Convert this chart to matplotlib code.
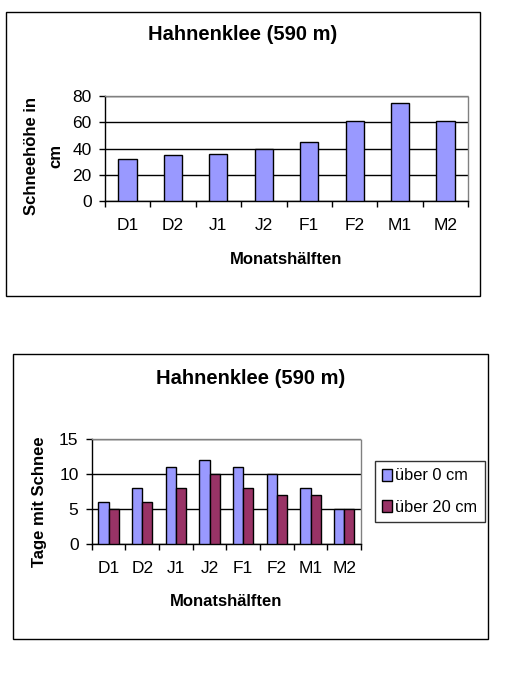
import matplotlib
matplotlib.use("Agg")
import matplotlib.pyplot as plt
from matplotlib.patches import Rectangle
import numpy as np

plt.rcParams['font.family'] = ['Liberation Sans', 'DejaVu Sans']

categories = ["D1", "D2", "J1", "J2", "F1", "F2", "M1", "M2"]
snow_depth = [32, 35, 36, 40, 45, 61, 75, 61]
days_over_0 = [6, 8, 11, 12, 11, 10, 8, 5]
days_over_20 = [5, 6, 8, 10, 8, 7, 7, 5]
title = "Hahnenklee (590 m)"
series_names = ["über 0 cm", "über 20 cm"]

W, H = 510, 700
fig = plt.figure(figsize=(W / 100, H / 100), dpi=100)
fig.patch.set_facecolor("white")

BLUE = "#9999FF"
RED = "#993366"
TICK_FS = 12.5
LABEL_FS = 12
TITLE_FS = 14.5


def fx(px):
    return px / W


def fy(py):
    return 1 - py / H


def box(x0, y0, x1, y1):
    fig.add_artist(Rectangle((fx(x0), fy(y1)), fx(x1) - fx(x0), fy(y0) - fy(y1),
                             transform=fig.transFigure, fill=False,
                             edgecolor="black", linewidth=1.0))


def style_axes(ax, n, ymax, ystep):
    ax.set_xlim(0, n)
    ax.set_ylim(0, ymax)
    ax.set_yticks(np.arange(0, ymax + 0.1, ystep))
    ax.set_xticks(np.arange(0, n + 1))
    ax.set_xticklabels([])
    ax.set_xticks(np.arange(n) + 0.5, minor=True)
    ax.set_xticklabels(categories, minor=True)
    ax.tick_params(axis="x", which="major", length=4.5, width=1, direction="out")
    ax.tick_params(axis="x", which="minor", length=0, pad=12, labelsize=TICK_FS)
    ax.tick_params(axis="y", length=4.5, width=1, direction="out", pad=5, labelsize=TICK_FS)
    ax.grid(axis="y", color="black", linewidth=1)
    ax.set_axisbelow(True)
    for s in ["top", "right"]:
        ax.spines[s].set_color("#808080")
        ax.spines[s].set_linestyle((0, (1, 1)))
        ax.spines[s].set_linewidth(1)
    for s in ["left", "bottom"]:
        ax.spines[s].set_color("black")
        ax.spines[s].set_linewidth(1)


# ---- Chart 1 ----
box(6, 12, 480, 296)
ax1 = fig.add_axes([fx(104.7), fy(201), fx(468.3) - fx(104.7), fy(96.3) - fy(201)])
x = np.arange(len(categories)) + 0.5
ax1.bar(x, snow_depth, width=0.4, color=BLUE, edgecolor="black", linewidth=1, zorder=3)
style_axes(ax1, len(categories), 80, 20)
fig.text(fx(243), fy(35), title, ha="center", va="center", fontsize=TITLE_FS, fontweight="bold")
fig.text(fx(286), fy(259), "Monatshälften", ha="center", va="center", fontsize=LABEL_FS, fontweight="bold")
fig.text(fx(44), fy(156), "Schneehöhe in\ncm", ha="center", va="center", fontsize=LABEL_FS,
         fontweight="bold", rotation=90, linespacing=1.75)

# ---- Chart 2 ----
box(13, 354, 488, 639)
ax2 = fig.add_axes([fx(91.7), fy(544.3), fx(361) - fx(91.7), fy(439.3) - fy(544.3)])
bw = 0.3
b1 = ax2.bar(x - bw / 2, days_over_0, width=bw, color=BLUE, edgecolor="black", linewidth=1, zorder=3,
             label=series_names[0])
b2 = ax2.bar(x + bw / 2, days_over_20, width=bw, color=RED, edgecolor="black", linewidth=1, zorder=3,
             label=series_names[1])
style_axes(ax2, len(categories), 15, 5)
fig.text(fx(251), fy(378), title, ha="center", va="center", fontsize=TITLE_FS, fontweight="bold")
fig.text(fx(226), fy(602), "Monatshälften", ha="center", va="center", fontsize=LABEL_FS, fontweight="bold")
fig.text(fx(40), fy(502), "Tage mit Schnee", ha="center", va="center", fontsize=LABEL_FS,
         fontweight="bold", rotation=90)

leg = fig.legend(handles=[b1, b2], labels=series_names,
                 loc="upper left", bbox_to_anchor=(fx(375), fy(461)),
                 frameon=True, fancybox=False, fontsize=11.8,
                 handlelength=0.6, handleheight=0.75, handletextpad=0.2,
                 borderpad=0.45, labelspacing=1.0, borderaxespad=0)
leg.get_frame().set_edgecolor("black")
leg.get_frame().set_linewidth(1)

fig.savefig("out.png", dpi=100, facecolor="white")
